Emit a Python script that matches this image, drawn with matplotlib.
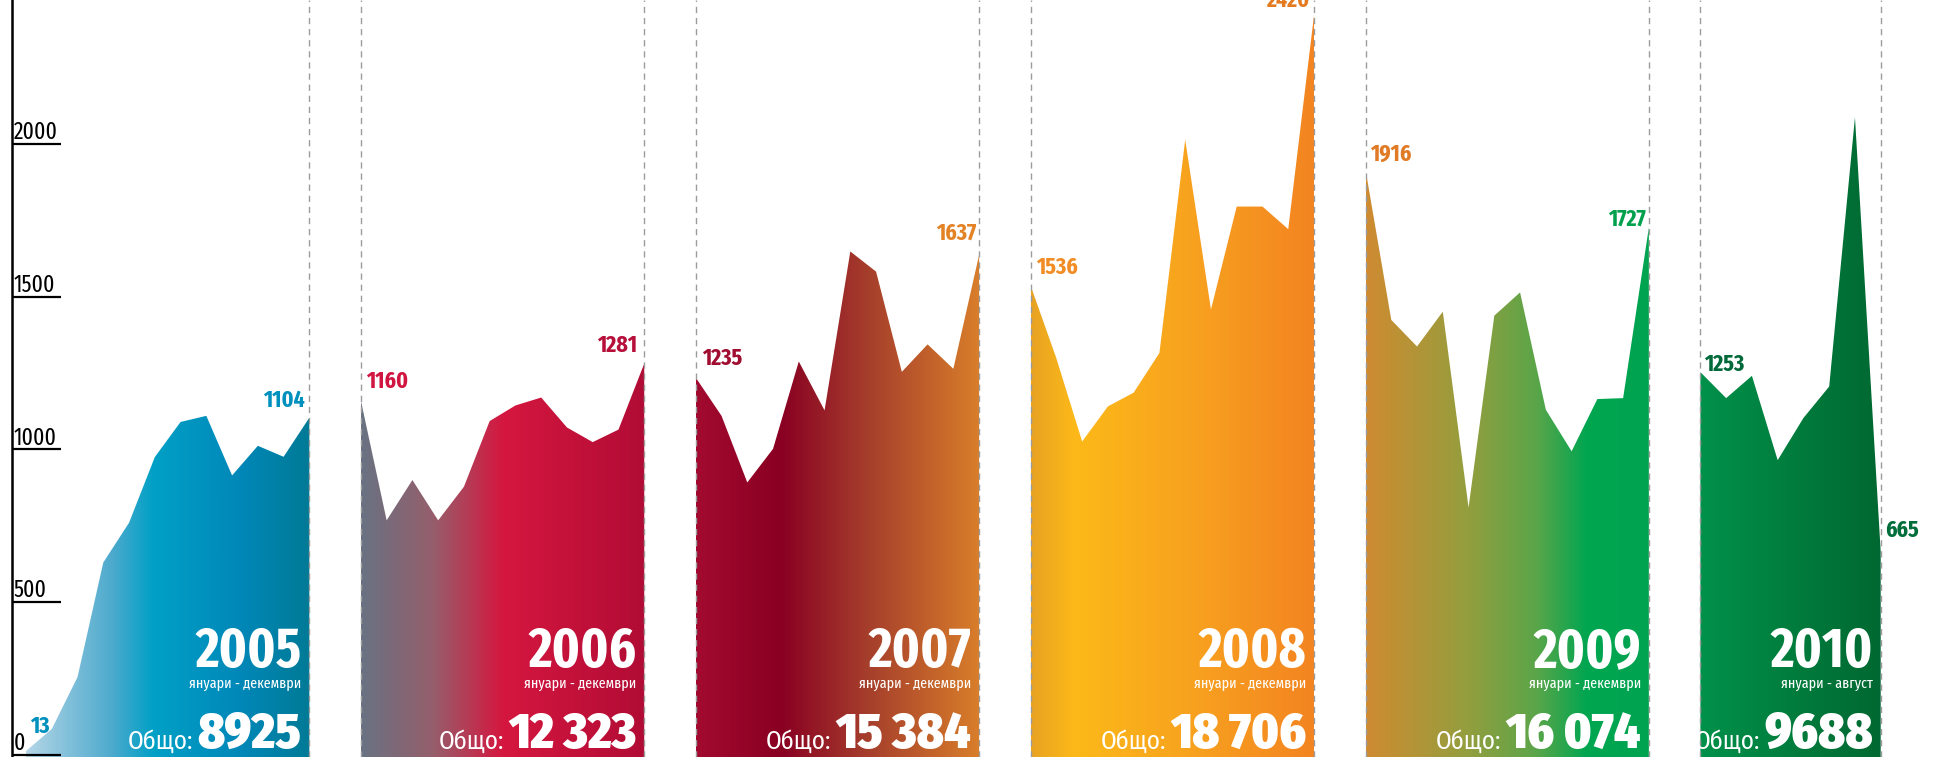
import numpy as np
import matplotlib
matplotlib.use('Agg')
import matplotlib.pyplot as plt
from matplotlib.colors import LinearSegmentedColormap
from matplotlib.patches import Polygon
from matplotlib.transforms import blended_transform_factory

# monthly values per year
years = ['2005', '2006', '2007', '2008', '2009', '2010']
periods = ['януари - декември'] * 5 + ['януари - август']
totals = ['8925', '12 323', '15 384', '18 706', '16 074', '9688']
v2005 = [13, 85, 255, 630, 760, 975, 1090, 1110, 915, 1012, 976, 1104]
v2006 = [1160, 768, 900, 768, 878, 1093, 1144, 1170, 1072, 1024, 1065, 1281]
v2007 = [1235, 1110, 892, 1002, 1288, 1128, 1648, 1582, 1254, 1344, 1264, 1637]
v2008 = [1536, 1298, 1026, 1141, 1186, 1316, 2014, 1458, 1795, 1795, 1721, 2420]
v2009 = [1916, 1424, 1337, 1451, 810, 1438, 1514, 1130, 994, 1165, 1168, 1727]
v2010 = [1253, 1168, 1241, 965, 1103, 1206, 2087, 665]
series = [v2005, v2006, v2007, v2008, v2009, v2010]
yticks = [0, 500, 1000, 1500, 2000]

# gradient stops per panel
grads = [
    [(0, '#b4d6e7'), (0.3, '#4eaacd'), (0.45, '#00a0c6'), (0.75, '#0088b9'), (1, '#007a96')],
    [(0, '#697282'), (0.25, '#955f6c'), (0.5, '#d5173f'), (1, '#b10c35')],
    [(0, '#a30a30'), (0.3, '#890022'), (0.6, '#a53d2c'), (1, '#d87e2a')],
    [(0, '#e8a223'), (0.15, '#fcb918'), (0.55, '#f8a31f'), (1, '#f38421')],
    [(0, '#cf8b31'), (0.35, '#959e3e'), (0.6, '#5ba549'), (0.78, '#00a651'), (1, '#00a450')],
    [(0, '#00914a'), (0.5, '#007d3d'), (1, '#006832')],
]
first_col = ['#0090bd', '#d11541', '#a10d31', '#f28c24', '#e07a24', '#00693a']
last_col = ['#0090bd', '#b50f3a', '#e48226', '#e47b21', '#00a04d', '#006e3a']
# (dx px, dy px) for first / last value label
first_off = [(4, 18), (5, 13), (6, 13), (5, 12), (5, 9), (4, 1)]
last_off = [(-5, 11), (-7, 12), (-3, 15), (-5, 9), (-3, 2), (4, 15)]

xcond = ['Fira Sans Extra Condensed', 'DejaVu Sans']
cond = ['Fira Sans Condensed', 'DejaVu Sans']

W, H = 1939, 757
fig = plt.figure(figsize=(W / 100, H / 100), dpi=100)
ax = fig.add_axes([0, 0, 1, 1])
ax.set_facecolor('white')

step = 13           # 12 months + gap
ymin, ymax = -6.5, 2471

for k, vals in enumerate(series):
    xs = k * step + np.arange(len(vals))
    verts = [(xs[0], ymin - 10)] + list(zip(xs, vals)) + [(xs[-1], ymin - 10)]
    poly = Polygon(verts, closed=True, facecolor='none', edgecolor='none')
    ax.add_patch(poly)
    cmap = LinearSegmentedColormap.from_list('g%d' % k, grads[k])
    grad = np.linspace(0, 1, 256).reshape(1, -1)
    im = ax.imshow(grad, cmap=cmap, extent=(xs[0], xs[-1], ymin - 10, ymax),
                   aspect='auto', interpolation='bicubic', zorder=1)
    im.set_clip_path(poly)

    if k > 0:
        ax.axvline(xs[0], color='#9c9c9c', lw=1.0, ls=(0, (4.5, 3.5)), zorder=3)
    ax.axvline(xs[-1], color='#9c9c9c', lw=1.0, ls=(0, (4.5, 3.5)), zorder=3)

    # value labels
    dx, dy = first_off[k]
    ax.annotate(str(vals[0]), (xs[0], vals[0]), xytext=(dx * 0.72, dy * 0.72),
                textcoords='offset points', ha='left', va='baseline',
                fontsize=17, fontweight='bold', family=xcond, color=first_col[k], zorder=4)
    dx, dy = last_off[k]
    ax.annotate(str(vals[-1]), (xs[-1], vals[-1]), xytext=(dx * 0.72, dy * 0.72),
                textcoords='offset points', ha='left' if dx > 0 else 'right', va='baseline',
                fontsize=17, fontweight='bold', family=xcond, color=last_col[k], zorder=4,
                annotation_clip=False)

ax.set_xlim(-26 / 25.76, (W - 26) / 25.76)
ax.set_ylim(ymin, ymax)

# year / period / total text inside each panel
tr = blended_transform_factory(ax.transData, ax.transAxes)
fig.canvas.draw()
renderer = fig.canvas.get_renderer()
for k, vals in enumerate(series):
    xr = k * step + len(vals) - 1 - 8 / 25.76
    ax.text(xr, 1 - 667 / H, years[k], transform=tr, ha='right', va='baseline',
            fontsize=40, fontweight='bold', family=xcond, color='white', zorder=5)
    ax.text(xr, 1 - 688 / H, periods[k], transform=tr, ha='right', va='baseline',
            fontsize=11, family=xcond, color='white', zorder=5)
    t = ax.text(xr, 1 - 748 / H, totals[k], transform=tr, ha='right', va='baseline',
                fontsize=36, fontweight='black', family=cond, color='white', zorder=5)
    bb = t.get_window_extent(renderer)
    xl = ax.transData.inverted().transform((bb.x0 - 4, 0))[0]
    ax.text(xl, 1 - 749 / H, 'Общо:', transform=tr, ha='right', va='baseline',
            fontsize=18, family=cond, color='white', zorder=5)

# axis line with inward ticks
for s in ['top', 'right', 'bottom']:
    ax.spines[s].set_visible(False)
ax.spines['left'].set_position(('data', -14 / 25.76))
ax.spines['left'].set_linewidth(1.8)
ax.set_xticks([])
ax.set_yticks(yticks)
ax.tick_params(axis='y', direction='in', length=35, width=1.6, labelleft=False)
for v in yticks:
    ax.text(-12 / 25.76, v, str(v), ha='left', va='bottom', fontsize=17,
            family=xcond, color='black', zorder=5)

fig.savefig('out.png', dpi=100)
